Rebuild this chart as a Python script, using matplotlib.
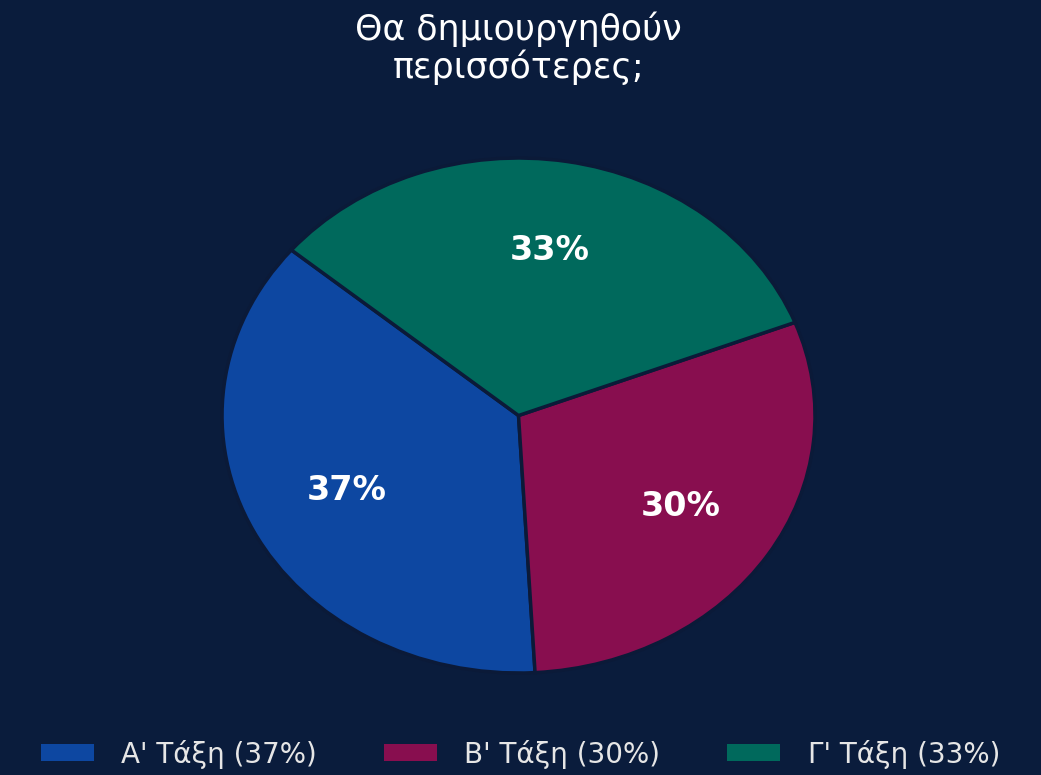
import matplotlib.pyplot as plt

# Data
labels = ["Α' Τάξη", "Β' Τάξη", "Γ' Τάξη"]
values = [37, 30, 33]
colors = ['#0d47a1', '#880e4f', '#00695c']
title = "Θα δημιουργηθούν\nπερισσότερες;"

bg = '#0a1c3c'

fig = plt.figure(figsize=(10.41, 7.75), dpi=100, facecolor=bg)
ax = fig.add_axes([0.2133, 0.1316, 0.5696, 0.6645])
ax.set_facecolor(bg)

wedges, texts, autotexts = ax.pie(
    values, colors=colors, startangle=140, counterclock=True,
    autopct='%1.0f%%', pctdistance=0.65,
    wedgeprops=dict(edgecolor='#0b1a38', linewidth=2.5),
    textprops=dict(color='white', fontsize=24, fontweight='bold'),
)
ax.set_aspect('auto')
ax.set_xlim(-1, 1)
ax.set_ylim(-1, 1)
ax.axis('off')

fig.text(0.498, 0.985, title, ha='center', va='top', color='white',
         fontsize=25, linespacing=1.1)

leg_labels = [f"{l} ({v}%)" for l, v in zip(labels, values)]
leg = fig.legend(wedges, leg_labels, loc='lower center', ncol=3,
                 bbox_to_anchor=(0.5, -0.024), frameon=False, fontsize=20,
                 labelcolor='#e6e6e6', handlelength=1.9, handleheight=0.55,
                 columnspacing=2.4, handletextpad=1.0)
for h in leg.legend_handles:
    h.set_edgecolor('none')

fig.savefig('out.png', dpi=100, facecolor=bg)
